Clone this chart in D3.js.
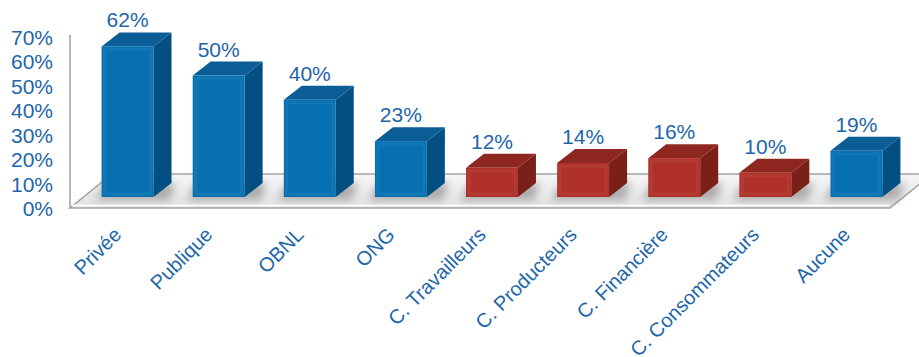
<!DOCTYPE html>
<html><head><meta charset="utf-8">
<script src="https://cdn.jsdelivr.net/npm/d3@7/dist/d3.min.js"></script>
<style>
html,body{margin:0;padding:0;background:#fff;}
svg{display:block;font-family:"Liberation Sans",Arial,sans-serif;}
</style></head>
<body>
<svg id="chart" width="919" height="357"></svg>
<script>
const categories = ["Privée","Publique","OBNL","ONG","C. Travailleurs","C. Producteurs","C. Financière","C. Consommateurs","Aucune"];
const values = [62,50,40,23,12,14,16,10,19];
const groups = ["org","org","org","org","coop","coop","coop","coop","org"];
const yTicks = [0,10,20,30,40,50,60,70];

const palette = {
  org:  {front:"#0670b1", top:"#0a5d95", side:"#044f82"},
  coop: {front:"#b0302a", top:"#8e271f", side:"#7a2018"}
};
const textColor = "#1d66a8";

const svg = d3.select("#chart");
const defs = svg.append("defs");
const blur = defs.append("filter").attr("id","blur").attr("x","-50%").attr("y","-50%").attr("width","200%").attr("height","200%");
blur.append("feGaussianBlur").attr("stdDeviation",4);
const fg = defs.append("linearGradient").attr("id","floorGrad").attr("x1",0).attr("y1",0).attr("x2",0).attr("y2",1);
fg.append("stop").attr("offset","0%").attr("stop-color","#f7f7f7");
fg.append("stop").attr("offset","100%").attr("stop-color","#e0e0e0");

const base = 197, depthX = 18, depthY = 14;
const x = d3.scaleBand().domain(categories).range([82,902]).paddingInner(0.43).paddingOuter(0.215);
const y = d3.scaleLinear().domain([0,70]).range([base, base-170]);
const yAxisScale = d3.scaleLinear().domain([0,70]).range([209,37.5]);

// floor
const floorPts = [[70,208],[890,208],[932,174],[112,174]];
svg.append("polygon").attr("points", floorPts.map(p=>p.join(",")).join(" "))
  .attr("fill","url(#floorGrad)").attr("stroke","#a3a3a3").attr("stroke-width",1.6);
svg.append("line").attr("x1",72).attr("x2",889).attr("y1",205.5).attr("y2",205.5).attr("stroke","#ffffff").attr("stroke-width",2);

// shadows
svg.append("g").selectAll("polygon").data(categories).join("polygon")
  .attr("points", d => {
    const x0 = x(d)-6, x1 = x(d)+x.bandwidth()+depthX+4;
    return [[x0,base+3],[x1-6,base+3],[x1,base-depthY],[x0+10,base-depthY]].map(p=>p.join(",")).join(" ");
  })
  .attr("fill","#808080").attr("opacity",0.6).attr("filter","url(#blur)");

// y axis
svg.append("line").attr("x1",70).attr("x2",70).attr("y1",35).attr("y2",208).attr("stroke","#a3a3a3").attr("stroke-width",1.6);
const ax = svg.append("g").attr("transform","translate(70,0)")
  .call(d3.axisLeft(yAxisScale).tickValues(yTicks).tickFormat(d=>d+"%").tickSize(0).tickPadding(17));
ax.select(".domain").remove();
ax.selectAll("text").attr("fill",textColor).style("font-size","21px").style("font-family","'Liberation Sans',Arial,sans-serif");

// bars
const bars = svg.append("g").selectAll("g").data(categories).join("g");
bars.each(function(d,i){
  const g = d3.select(this);
  const c = palette[groups[i]];
  const x0 = x(d), x1 = x(d)+x.bandwidth(), t = y(values[i]);
  g.append("polygon").attr("points",[[x1,t],[x1+depthX,t-depthY],[x1+depthX,base-depthY],[x1,base]].map(p=>p.join(",")).join(" ")).attr("fill",c.side);
  g.append("polygon").attr("points",[[x0,t],[x0+depthX,t-depthY],[x1+depthX,t-depthY],[x1,t]].map(p=>p.join(",")).join(" ")).attr("fill",c.top);
  g.append("rect").attr("x",x0).attr("y",t).attr("width",x1-x0).attr("height",base-t).attr("fill",c.front);
  g.append("rect").attr("x",x0+3).attr("y",t+3).attr("width",x1-x0-6).attr("height",Math.max(0,base-t-6))
    .attr("fill","none").attr("stroke","#ffffff").attr("stroke-opacity",0.05).attr("stroke-width",3);
});

// value labels
svg.append("g").selectAll("text").data(categories).join("text")
  .attr("x", d => x(d)+x.bandwidth()/2)
  .attr("y", (d,i) => y(values[i]) - depthY - 5)
  .attr("text-anchor","middle").attr("fill",textColor).style("font-size","21px")
  .text((d,i) => values[i]+"%");

// category labels
svg.append("g").selectAll("text").data(categories).join("text")
  .attr("transform", d => `translate(${x(d)+x.bandwidth()/2-5},236) rotate(-45)`)
  .attr("text-anchor","end").attr("fill",textColor).style("font-size","20px")
  .text(d => d);
</script>
</body></html>
